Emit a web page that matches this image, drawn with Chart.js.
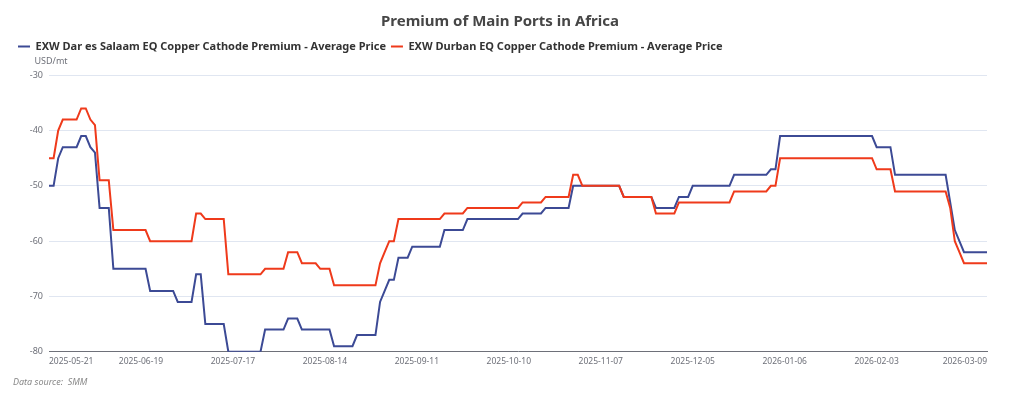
<!DOCTYPE html>
<html>
<head>
<meta charset="utf-8">
<title>Premium of Main Ports in Africa</title>
<script src="https://cdn.jsdelivr.net/npm/chart.js@4.4.1/dist/chart.umd.min.js"></script>
<style>
  html, body { margin: 0; padding: 0; background: #fff; }
  #wrap { width: 1024px; height: 399px; }
</style>
</head>
<body>
<div id="wrap"><canvas id="myLineChart"></canvas></div>
<script>
// trading days shown on the x axis
var dates = [
  '2025-05-21','2025-05-22','2025-05-23','2025-05-26','2025-05-27','2025-05-28','2025-05-29','2025-05-30',
  '2025-06-03','2025-06-04','2025-06-05','2025-06-06','2025-06-09','2025-06-10','2025-06-11','2025-06-12','2025-06-13',
  '2025-06-16','2025-06-17','2025-06-18','2025-06-19','2025-06-20','2025-06-23','2025-06-24','2025-06-25','2025-06-26','2025-06-27',
  '2025-06-30','2025-07-01','2025-07-02','2025-07-03','2025-07-04','2025-07-07','2025-07-08','2025-07-09','2025-07-10','2025-07-11',
  '2025-07-14','2025-07-15','2025-07-16','2025-07-17','2025-07-18','2025-07-21','2025-07-22','2025-07-23','2025-07-24','2025-07-25',
  '2025-07-28','2025-07-29','2025-07-30','2025-07-31','2025-08-01','2025-08-04','2025-08-05','2025-08-06','2025-08-07','2025-08-08',
  '2025-08-11','2025-08-12','2025-08-13','2025-08-14','2025-08-15','2025-08-18','2025-08-19','2025-08-20','2025-08-21','2025-08-22',
  '2025-08-25','2025-08-26','2025-08-27','2025-08-28','2025-08-29','2025-09-01','2025-09-02','2025-09-03','2025-09-04','2025-09-05',
  '2025-09-08','2025-09-09','2025-09-10','2025-09-11','2025-09-12','2025-09-15','2025-09-16','2025-09-17','2025-09-18','2025-09-19',
  '2025-09-22','2025-09-23','2025-09-24','2025-09-25','2025-09-26','2025-09-29','2025-09-30','2025-10-02','2025-10-03',
  '2025-10-06','2025-10-07','2025-10-08','2025-10-09','2025-10-10','2025-10-13','2025-10-14','2025-10-15','2025-10-16','2025-10-17',
  '2025-10-20','2025-10-21','2025-10-22','2025-10-23','2025-10-24','2025-10-27','2025-10-28','2025-10-29','2025-10-30','2025-10-31',
  '2025-11-03','2025-11-04','2025-11-05','2025-11-06','2025-11-07','2025-11-10','2025-11-11','2025-11-12','2025-11-13','2025-11-14',
  '2025-11-17','2025-11-18','2025-11-19','2025-11-20','2025-11-21','2025-11-24','2025-11-25','2025-11-26','2025-11-27','2025-11-28',
  '2025-12-01','2025-12-02','2025-12-03','2025-12-04','2025-12-05','2025-12-08','2025-12-09','2025-12-10','2025-12-11','2025-12-12',
  '2025-12-15','2025-12-16','2025-12-17','2025-12-18','2025-12-19','2025-12-22','2025-12-23','2025-12-24','2025-12-25','2025-12-26',
  '2025-12-29','2025-12-30','2025-12-31','2026-01-05','2026-01-06','2026-01-07','2026-01-08','2026-01-09',
  '2026-01-12','2026-01-13','2026-01-14','2026-01-15','2026-01-16','2026-01-19','2026-01-20','2026-01-21','2026-01-22','2026-01-23',
  '2026-01-26','2026-01-27','2026-01-28','2026-01-29','2026-01-30','2026-02-02','2026-02-03','2026-02-04','2026-02-05','2026-02-06',
  '2026-02-09','2026-02-10','2026-02-11','2026-02-12','2026-02-13','2026-02-16','2026-02-17','2026-02-18','2026-02-19','2026-02-20',
  '2026-02-23','2026-02-24','2026-02-25','2026-02-26','2026-02-27','2026-03-02','2026-03-03','2026-03-04','2026-03-05','2026-03-06',
  '2026-03-09'
];

// EXW Dar es Salaam, USD/mt
var darEsSalaam = [
  -50,-50,-45,-43,-43,-43,-43,-41,-41,-43,
  -44,-54,-54,-54,-65,-65,-65,-65,-65,-65,
  -65,-65,-69,-69,-69,-69,-69,-69,-71,-71,
  -71,-71,-66,-66,-75,-75,-75,-75,-75,-80,
  -80,-80,-80,-80,-80,-80,-80,-76,-76,-76,
  -76,-76,-74,-74,-74,-76,-76,-76,-76,-76,
  -76,-76,-79,-79,-79,-79,-79,-77,-77,-77,
  -77,-77,-71,-69,-67,-67,-63,-63,-63,-61,
  -61,-61,-61,-61,-61,-61,-58,-58,-58,-58,
  -58,-56,-56,-56,-56,-56,-56,-56,-56,-56,
  -56,-56,-56,-55,-55,-55,-55,-55,-54,-54,
  -54,-54,-54,-54,-50,-50,-50,-50,-50,-50,
  -50,-50,-50,-50,-50,-52,-52,-52,-52,-52,
  -52,-52,-54,-54,-54,-54,-54,-52,-52,-52,
  -50,-50,-50,-50,-50,-50,-50,-50,-50,-48,
  -48,-48,-48,-48,-48,-48,-48,-47,-47,-41,
  -41,-41,-41,-41,-41,-41,-41,-41,-41,-41,
  -41,-41,-41,-41,-41,-41,-41,-41,-41,-41,
  -43,-43,-43,-43,-48,-48,-48,-48,-48,-48,
  -48,-48,-48,-48,-48,-48,-53,-58,-60,-62,
  -62,-62,-62,-62,-62
];

// EXW Durban, USD/mt
var durban = [
  -45,-45,-40,-38,-38,-38,-38,-36,-36,-38,
  -39,-49,-49,-49,-58,-58,-58,-58,-58,-58,
  -58,-58,-60,-60,-60,-60,-60,-60,-60,-60,
  -60,-60,-55,-55,-56,-56,-56,-56,-56,-66,
  -66,-66,-66,-66,-66,-66,-66,-65,-65,-65,
  -65,-65,-62,-62,-62,-64,-64,-64,-64,-65,
  -65,-65,-68,-68,-68,-68,-68,-68,-68,-68,
  -68,-68,-64,-62,-60,-60,-56,-56,-56,-56,
  -56,-56,-56,-56,-56,-56,-55,-55,-55,-55,
  -55,-54,-54,-54,-54,-54,-54,-54,-54,-54,
  -54,-54,-54,-53,-53,-53,-53,-53,-52,-52,
  -52,-52,-52,-52,-48,-48,-50,-50,-50,-50,
  -50,-50,-50,-50,-50,-52,-52,-52,-52,-52,
  -52,-52,-55,-55,-55,-55,-55,-53,-53,-53,
  -53,-53,-53,-53,-53,-53,-53,-53,-53,-51,
  -51,-51,-51,-51,-51,-51,-51,-50,-50,-45,
  -45,-45,-45,-45,-45,-45,-45,-45,-45,-45,
  -45,-45,-45,-45,-45,-45,-45,-45,-45,-45,
  -47,-47,-47,-47,-51,-51,-51,-51,-51,-51,
  -51,-51,-51,-51,-51,-51,-54,-60,-62,-64,
  -64,-64,-64,-64,-64
];

var seriesNames = [
  'EXW Dar es Salaam EQ Copper Cathode Premium - Average Price',
  'EXW Durban EQ Copper Cathode Premium - Average Price'
];
var yTicks = [-80, -70, -60, -50, -40, -30];

var FONT = "'Noto Sans', 'DejaVu Sans', sans-serif";
var AXIS_GREY = '#6E7079';

// "USD/mt" above the value axis, like the echarts axis name
var unitLabel = {
  id: 'unitLabel',
  afterDraw: function(chart) {
    var c = chart.ctx;
    c.save();
    c.font = "9px " + FONT;
    c.fillStyle = AXIS_GREY;
    c.textAlign = 'center';
    c.textBaseline = 'middle';
    c.fillText('USD/mt', chart.chartArea.left + 2, 61);
    c.restore();
  }
};

var ctx = document.getElementById('myLineChart').getContext('2d');
var myLineChart = new Chart(ctx, {
  type: 'line',
  data: {
    labels: dates,
    datasets: [{
      label: seriesNames[0],
      data: darEsSalaam,
      borderColor: '#3c4a95',
      backgroundColor: '#3c4a95',
      borderWidth: 2,
      pointRadius: 0,
      pointHoverRadius: 0,
      tension: 0,
      order: 1
    }, {
      label: seriesNames[1],
      data: durban,
      borderColor: '#ef3a1b',
      backgroundColor: '#ef3a1b',
      borderWidth: 2,
      pointRadius: 0,
      pointHoverRadius: 0,
      tension: 0,
      order: 0
    }]
  },
  options: {
    responsive: true,
    maintainAspectRatio: false,
    animation: false,
    layout: {
      padding: { top: 0, left: 13, right: 37, bottom: 0 }
    },
    plugins: {
      title: {
        display: true,
        text: 'Premium of Main Ports in Africa',
        color: '#464646',
        font: { family: FONT, size: 15, weight: 'bold' },
        padding: { top: 12.7, bottom: 5.3 }
      },
      legend: {
        display: true,
        position: 'top',
        align: 'start',
        labels: {
          usePointStyle: true,
          pointStyle: 'line',
          pointStyleWidth: 12,
          padding: 5,
          color: '#333',
          font: { family: FONT, size: 11, weight: 'bold' },
          sort: function(a, b) { return a.datasetIndex - b.datasetIndex; }
        }
      },
      subtitle: {
        display: true,
        position: 'bottom',
        align: 'start',
        text: 'Data source:  SMM',
        color: '#888',
        font: { family: FONT, size: 9, style: 'italic' },
        padding: { top: 5.6, bottom: 10.9 }
      },
      tooltip: { enabled: false }
    },
    scales: {
      x: {
        type: 'category',
        offset: false,
        grid: { display: false, drawTicks: false },
        border: { display: true, color: AXIS_GREY, width: 1 },
        ticks: {
          autoSkip: false,
          maxRotation: 0,
          minRotation: 0,
          align: 'inner',
          padding: 5,
          color: AXIS_GREY,
          font: { family: FONT, size: 8.5 },
          callback: function(value, index) {
            if ((index % 20 === 0 && index <= 180) || index === dates.length - 1) {
              return this.getLabelForValue(value);
            }
            return null;
          }
        },
        afterFit: function(scale) { scale.height = 20; }
      },
      // empty band between the legend and the plot, leaves room for the unit label
      spacer: {
        type: 'category',
        position: 'top',
        grid: { display: false, drawTicks: false },
        border: { display: false },
        ticks: { display: false },
        afterFit: function(scale) { scale.height = 13.3; }
      },
      y: {
        min: yTicks[0],
        max: yTicks[yTicks.length - 1],
        grid: { color: '#E0E6F1', drawTicks: false },
        border: { display: false },
        ticks: {
          stepSize: 10,
          padding: 6,
          color: AXIS_GREY,
          font: { family: FONT, size: 9 }
        },
        afterBuildTicks: function(scale) {
          scale.ticks = yTicks.map(function(v) { return { value: v }; });
        },
        afterFit: function(scale) { scale.width = 36; }
      }
    }
  },
  plugins: [unitLabel]
});
</script>
</body>
</html>
